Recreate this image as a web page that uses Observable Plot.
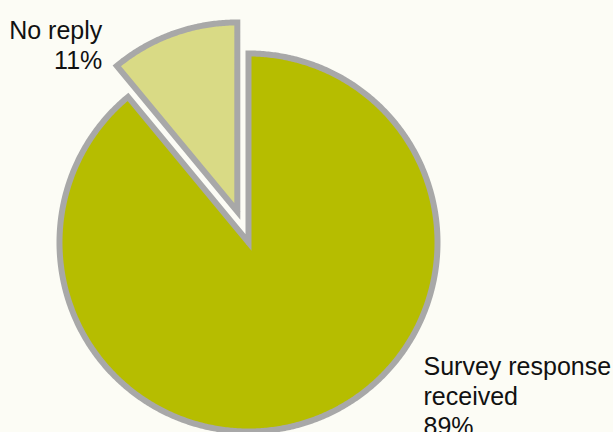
<!DOCTYPE html>
<html><head><meta charset="utf-8">
<script src="https://cdn.jsdelivr.net/npm/d3@7"></script>
<script src="https://cdn.jsdelivr.net/npm/@observablehq/plot@0.6"></script>
<style>html,body{margin:0;padding:0;background:#fcfcf5;overflow:hidden}</style>
</head><body><div id="chart"></div>
<script>
// ---- data ----
const categories = ["Survey response received", "No reply"];
const values = [89, 11];
const labelNames = [["Survey response", "received"], ["No reply"]];
const fills = ["#b6bd00", "#d9da85"];
const exploded = [false, true];

// ---- layout constants ----
const W = 613, H = 432;
const R = 189, CX = 248, CY = 242, EXPLODE = 33;

const total = d3.sum(values);
const arcs = d3.pie().sort(null).value(d => d.value)(
  categories.map((c, i) => ({category: c, value: values[i], i}))
);

// polygon vertices (pixel units relative to centre, y up)
const rows = [];
const labelAnchors = [];
arcs.forEach(a => {
  const mid = (a.startAngle + a.endAngle) / 2;
  const off = exploded[a.data.i] ? EXPLODE : 0;
  const ox = off * Math.sin(mid), oy = off * Math.cos(mid);
  const pts = [[ox, oy]];
  const n = Math.max(2, Math.ceil((a.endAngle - a.startAngle) / (Math.PI / 360)));
  for (let k = 0; k <= n; k++) {
    const t = a.startAngle + (a.endAngle - a.startAngle) * k / n;
    pts.push([ox + R * Math.sin(t), oy + R * Math.cos(t)]);
  }
  pts.push([ox, oy]);
  pts.push([ox + R * Math.sin(a.startAngle), oy + R * Math.cos(a.startAngle)]);
  pts.forEach(([x, y]) => rows.push({category: a.data.category, x, y}));
  labelAnchors.push({
    category: a.data.category,
    x: ox + R * Math.sin(mid),
    y: oy + R * Math.cos(mid),
    text: [...labelNames[a.data.i], Math.round(a.data.value / total * 100) + "%"].join("\n")
  });
});

const font = "'Liberation Sans', Arial, Helvetica, sans-serif";

const chart = Plot.plot({
  width: W, height: H,
  margin: 0,
  style: {background: "#fcfcf5", fontFamily: font, overflow: "visible"},
  x: {domain: [-CX, W - CX], range: [0, W], axis: null},
  y: {domain: [-(H - CY), CY], range: [H, 0], axis: null},
  color: {domain: categories, range: fills},
  marks: [
    Plot.line(rows, {
      x: "x", y: "y", z: "category", fill: "category",
      stroke: "#a8a8a8", strokeWidth: 6, strokeLinejoin: "miter", strokeMiterlimit: 10,
      curve: "linear"
    }),
    Plot.text(labelAnchors.filter(d => d.category === categories[1]), {
      x: "x", y: "y", text: "text", textAnchor: "end", lineAnchor: "top",
      lineHeight: 1.2, fontSize: 25, fill: "#111", dx: -71, dy: -16
    }),
    Plot.text(labelAnchors.filter(d => d.category === categories[0]), {
      x: "x", y: "y", text: "text", textAnchor: "start", lineAnchor: "top",
      lineHeight: 1.2, fontSize: 25, fill: "#111", dx: 111, dy: -67
    })
  ]
});
document.getElementById("chart").appendChild(chart);
</script>
</body></html>
